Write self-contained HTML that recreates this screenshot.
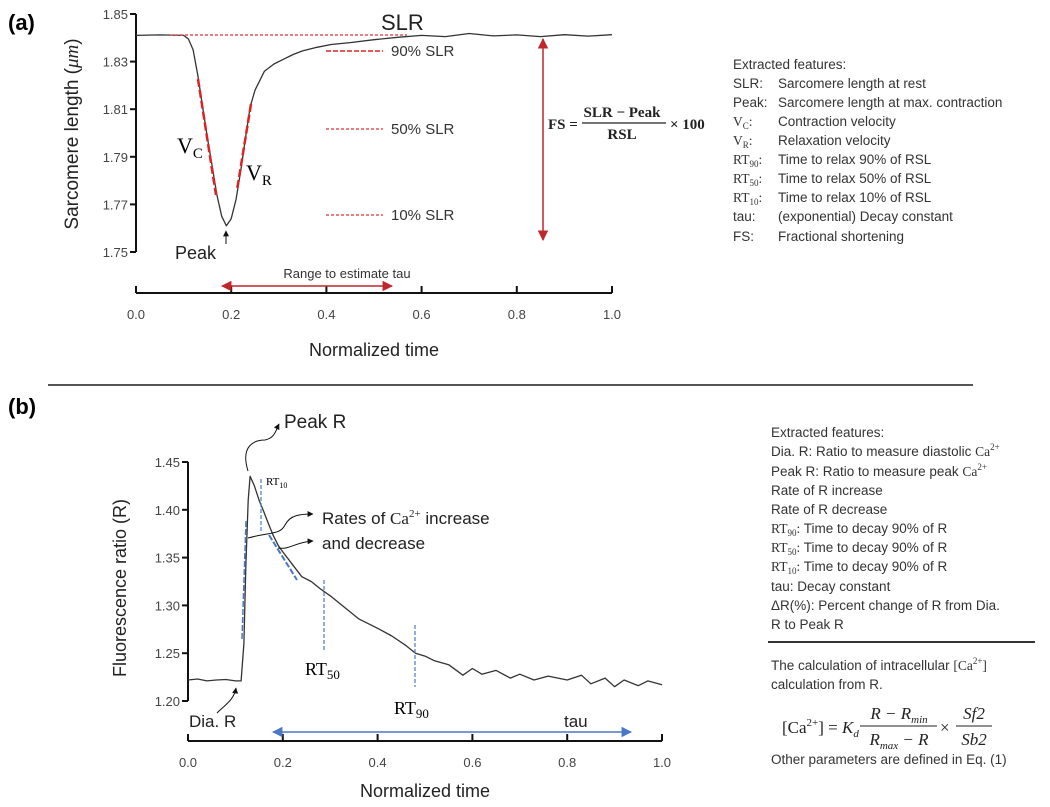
<!DOCTYPE html>
<html><head><meta charset="utf-8"><style>
body{margin:0;background:#fff;}
svg{display:block;font-family:"Liberation Sans",sans-serif;}
.tk{font-size:13px;fill:#444;}
.ft{font-size:13.5px;fill:#333;}
.sr{font-family:"Liberation Serif",serif;}
</style></head><body>
<svg id="s" width="1050" height="807" viewBox="0 0 1050 807">
<defs>
<marker id="ar" viewBox="0 0 10 10" refX="9" refY="5" markerWidth="7" markerHeight="7" orient="auto-start-reverse"><path d="M0,0L10,5L0,10z" fill="#c0272d"/></marker>
<marker id="ab" viewBox="0 0 10 10" refX="9" refY="5" markerWidth="7" markerHeight="7" orient="auto-start-reverse"><path d="M0,0L10,5L0,10z" fill="#4a78c2"/></marker>
<marker id="ak" viewBox="0 0 10 10" refX="9" refY="5" markerWidth="6" markerHeight="6" orient="auto"><path d="M0,0L10,5L0,10z" fill="#111"/></marker>
</defs>
<g id="pa"></g>
<g id="pb"></g>

<text x="8" y="30" font-size="22" font-weight="bold">(a)</text>
<text x="8" y="414" font-size="22" font-weight="bold">(b)</text>
<line x1="48" y1="385" x2="973" y2="385" stroke="#555" stroke-width="2"/>

<!-- panel a annotations -->
<text x="381" y="30" font-size="22" fill="#222">SLR</text>
<line x1="170" y1="35" x2="407" y2="35" stroke="#e0555a" stroke-width="1.5" stroke-dasharray="3,2"/>
<line x1="326" y1="51" x2="383" y2="51" stroke="#d22" stroke-width="1.5" stroke-dasharray="5,2"/>
<text x="391" y="56" font-size="15" fill="#333">90% SLR</text>
<line x1="326" y1="129" x2="383" y2="129" stroke="#e0555a" stroke-width="1.5" stroke-dasharray="3,2"/>
<text x="391" y="134" font-size="15" fill="#333">50% SLR</text>
<line x1="326" y1="215" x2="383" y2="215" stroke="#e0555a" stroke-width="1.5" stroke-dasharray="3,2"/>
<text x="391" y="220" font-size="15" fill="#333">10% SLR</text>
<line x1="198" y1="79" x2="216" y2="195" stroke="#d22" stroke-width="2.5" stroke-dasharray="8,3"/>
<line x1="251" y1="104" x2="237" y2="190" stroke="#d22" stroke-width="2.5" stroke-dasharray="8,3"/>
<text x="177" y="153" font-size="22" class="sr">V<tspan font-size="15" dy="5">C</tspan></text>
<text x="246" y="180" font-size="22" class="sr">V<tspan font-size="15" dy="5">R</tspan></text>
<text x="175" y="259" font-size="18" fill="#222">Peak</text>
<line x1="226" y1="244" x2="226" y2="231" stroke="#111" stroke-width="1" marker-end="url(#ak)"/>
<text x="347" y="278" font-size="13" fill="#333" text-anchor="middle">Range to estimate tau</text>
<line x1="222" y1="286" x2="392" y2="286" stroke="#c0272d" stroke-width="1.5" marker-start="url(#ar)" marker-end="url(#ar)"/>
<line x1="543" y1="39" x2="543" y2="240" stroke="#c0272d" stroke-width="1.5" marker-start="url(#ar)" marker-end="url(#ar)"/>
<g class="sr" font-size="15" font-weight="bold" fill="#222">
<text x="548" y="129">FS =</text>
<text x="622" y="117" text-anchor="middle">SLR − Peak</text>
<line x1="582" y1="123" x2="666" y2="123" stroke="#222" stroke-width="1.2"/>
<text x="622" y="139" text-anchor="middle">RSL</text>
<text x="670" y="129">× 100</text>
</g>
<g class="ft">
<text x="733" y="69">Extracted features:</text>
<text x="733" y="88">SLR:</text><text x="778" y="88">Sarcomere length at rest</text>
<text x="733" y="107">Peak:</text><text x="778" y="107">Sarcomere length at max. contraction</text>
<text x="733" y="126" class="sr">V<tspan font-size="9" dy="3">C</tspan><tspan dy="-3">:</tspan></text><text x="778" y="126">Contraction velocity</text>
<text x="733" y="145" class="sr">V<tspan font-size="9" dy="3">R</tspan><tspan dy="-3">:</tspan></text><text x="778" y="145">Relaxation velocity</text>
<text x="733" y="164" class="sr">RT<tspan font-size="9" dy="3">90</tspan><tspan dy="-3">:</tspan></text><text x="778" y="164">Time to relax 90% of RSL</text>
<text x="733" y="183" class="sr">RT<tspan font-size="9" dy="3">50</tspan><tspan dy="-3">:</tspan></text><text x="778" y="183">Time to relax 50% of RSL</text>
<text x="733" y="202" class="sr">RT<tspan font-size="9" dy="3">10</tspan><tspan dy="-3">:</tspan></text><text x="778" y="202">Time to relax 10% of RSL</text>
<text x="733" y="221">tau:</text><text x="778" y="221">(exponential) Decay constant</text>
<text x="733" y="241">FS:</text><text x="778" y="241">Fractional shortening</text>
</g>

<!-- panel b annotations -->
<text x="284" y="428" font-size="19" fill="#222">Peak R</text>
<path d="M248,471 C240,445 255,440 265,440 C275,438 276,430 279,424" fill="none" stroke="#111" stroke-width="1" marker-end="url(#ak)"/>
<line x1="261" y1="479" x2="261" y2="531" stroke="#4a78c2" stroke-width="1.2" stroke-dasharray="4,2"/>
<text x="266" y="485" font-size="11" class="sr">RT<tspan font-size="8" dy="3">10</tspan></text>
<text x="322" y="524" font-size="17" fill="#222">Rates of <tspan class="sr">Ca<tspan font-size="11" dy="-7">2+</tspan></tspan><tspan dy="7"> increase</tspan></text>
<text x="322" y="549" font-size="17" fill="#222">and decrease</text>
<path d="M248,538 C270,532 280,535 285,525 C290,515 300,514 313,514" fill="none" stroke="#111" stroke-width="1" marker-end="url(#ak)"/>
<path d="M278,548 C290,550 295,542 313,541" fill="none" stroke="#111" stroke-width="1" marker-end="url(#ak)"/>
<line x1="242" y1="639" x2="246" y2="521" stroke="#4a78c2" stroke-width="1.5" stroke-dasharray="6,2"/>
<line x1="269" y1="535" x2="297" y2="580" stroke="#4a78c2" stroke-width="2" stroke-dasharray="6,2"/>
<line x1="324" y1="580" x2="324" y2="650" stroke="#4a78c2" stroke-width="1.2" stroke-dasharray="4,2"/>
<text x="305" y="675" font-size="18" class="sr">RT<tspan font-size="13" dy="4">50</tspan></text>
<line x1="415" y1="625" x2="415" y2="687" stroke="#4a78c2" stroke-width="1.2" stroke-dasharray="4,2"/>
<text x="394" y="714" font-size="18" class="sr">RT<tspan font-size="13" dy="4">90</tspan></text>
<text x="189" y="727" font-size="17" fill="#222">Dia. R</text>
<path d="M217,713 C225,705 234,700 236,688" fill="none" stroke="#111" stroke-width="1" marker-end="url(#ak)"/>
<text x="564" y="727" font-size="17" fill="#222">tau</text>
<line x1="273" y1="732" x2="631" y2="732" stroke="#4a78c2" stroke-width="1.5" marker-start="url(#ab)" marker-end="url(#ab)"/>
<g class="ft">
<text x="771" y="437">Extracted features:</text>
<text x="771" y="456">Dia. R: Ratio to measure diastolic <tspan class="sr">Ca<tspan font-size="9" dy="-6">2+</tspan></tspan></text>
<text x="771" y="476">Peak R: Ratio to measure peak <tspan class="sr">Ca<tspan font-size="9" dy="-6">2+</tspan></tspan></text>
<text x="771" y="495">Rate of R increase</text>
<text x="771" y="514">Rate of R decrease</text>
<text x="771" y="533"><tspan class="sr">RT<tspan font-size="9" dy="3">90</tspan><tspan dy="-3">:</tspan></tspan> Time to decay 90% of R</text>
<text x="771" y="552"><tspan class="sr">RT<tspan font-size="9" dy="3">50</tspan><tspan dy="-3">:</tspan></tspan> Time to decay 90% of R</text>
<text x="771" y="571"><tspan class="sr">RT<tspan font-size="9" dy="3">10</tspan><tspan dy="-3">:</tspan></tspan> Time to decay 90% of R</text>
<text x="771" y="591">tau:   Decay constant</text>
<text x="771" y="610">ΔR(%): Percent change of R from Dia.</text>
<text x="771" y="629">R to Peak R</text>
<line x1="768" y1="642" x2="1035" y2="642" stroke="#333" stroke-width="2"/>
<text x="771" y="670">The calculation of intracellular <tspan class="sr">[Ca<tspan font-size="9" dy="-6">2+</tspan><tspan dy="6">]</tspan></tspan></text>
<text x="771" y="689">calculation from R.</text>
<text x="771" y="764">Other parameters are defined in Eq. (1)</text>
</g>
<g class="sr" font-size="17" fill="#222">
<text x="782" y="733">[Ca<tspan font-size="11" dy="-7">2+</tspan><tspan dy="7">] = </tspan><tspan font-style="italic">K</tspan><tspan font-size="11" dy="4" font-style="italic">d</tspan></text>
<text x="899" y="719" text-anchor="middle" font-style="italic">R − R<tspan font-size="11" dy="4">min</tspan></text>
<line x1="860" y1="726" x2="937" y2="726" stroke="#222" stroke-width="1"/>
<text x="899" y="745" text-anchor="middle" font-style="italic">R<tspan font-size="11" dy="4">max</tspan><tspan dy="-4"> − R</tspan></text>
<text x="940" y="733">×</text>
<text x="974" y="719" text-anchor="middle" font-style="italic">Sf2</text>
<line x1="956" y1="726" x2="992" y2="726" stroke="#222" stroke-width="1"/>
<text x="974" y="745" text-anchor="middle" font-style="italic">Sb2</text>
</g>
</svg>
<script>
// Panel (a) data
const aTime = [0,0.05,0.1,0.11,0.12,0.13,0.14,0.15,0.16,0.17,0.18,0.19,0.2,0.21,0.22,0.23,0.24,0.25,0.27,0.29,0.31,0.33,0.35,0.38,0.41,0.45,0.5,0.55,0.6,0.65,0.7,0.75,0.8,0.85,0.9,0.95,1.0];
const aLength = [1.841,1.8412,1.841,1.8395,1.835,1.824,1.811,1.798,1.786,1.774,1.765,1.761,1.764,1.772,1.784,1.798,1.811,1.818,1.826,1.829,1.831,1.833,1.8345,1.836,1.8372,1.838,1.8392,1.8402,1.841,1.8405,1.8418,1.8408,1.8412,1.8405,1.8413,1.8407,1.8413];
const aYTicks = [1.75,1.77,1.79,1.81,1.83,1.85];
const aXTicks = [0,0.2,0.4,0.6,0.8,1.0];
// Panel (b) data
const bTime = [0,0.02,0.04,0.06,0.08,0.1,0.112,0.118,0.122,0.127,0.131,0.14,0.15,0.16,0.17,0.18,0.19,0.2,0.22,0.24,0.26,0.28,0.3,0.33,0.36,0.4,0.43,0.46,0.48,0.5,0.52,0.55,0.58,0.6,0.62,0.65,0.68,0.7,0.73,0.76,0.8,0.83,0.85,0.88,0.9,0.92,0.95,0.97,1.0];
const bRatio = [1.222,1.223,1.221,1.222,1.2225,1.221,1.221,1.26,1.34,1.41,1.435,1.425,1.41,1.398,1.385,1.373,1.363,1.356,1.343,1.33,1.325,1.317,1.31,1.298,1.286,1.276,1.268,1.258,1.25,1.247,1.242,1.238,1.227,1.234,1.228,1.232,1.224,1.228,1.222,1.226,1.222,1.227,1.218,1.224,1.215,1.222,1.216,1.221,1.217];
const bYTicks = [1.20,1.25,1.30,1.35,1.40,1.45];
const bXTicks = [0,0.2,0.4,0.6,0.8,1.0];

const NS = 'http://www.w3.org/2000/svg';
function mk(parent, tag, attrs){const e=document.createElementNS(NS,tag);for(const k in attrs)e.setAttribute(k,attrs[k]);parent.appendChild(e);return e;}

function drawPanel(g, cfg){
  const sx = v => cfg.x0 + (v - cfg.xmin)/(cfg.xmax - cfg.xmin)*(cfg.x1 - cfg.x0);
  const sy = v => cfg.yb + (v - cfg.ymin)/(cfg.ymax - cfg.ymin)*(cfg.yt - cfg.yb);
  const yax = mk(g,'line',{x1:cfg.x0,y1:sy(cfg.ymin),x2:cfg.x0,y2:sy(cfg.ymax),stroke:'#111','stroke-width':2});
  
  
  cfg.yTicks.forEach(v=>{
    const t=mk(g,'line',{x1:cfg.x0-6,y1:sy(v),x2:cfg.x0,y2:sy(v),stroke:'#111','stroke-width':2});
    
    
    const l=mk(g,'text',{x:cfg.x0-8,y:sy(v)+5,'text-anchor':'end',class:'tk'});
    l.textContent=v.toFixed(2);
    
    
  });
  const xax = mk(g,'line',{x1:sx(cfg.xmin),y1:cfg.xa,x2:sx(cfg.xmax),y2:cfg.xa,stroke:'#111','stroke-width':2});
  
  
  cfg.xTicks.forEach(v=>{
    const t=mk(g,'line',{x1:sx(v),y1:cfg.xa-7,x2:sx(v),y2:cfg.xa,stroke:'#111','stroke-width':2});
    
    
    const l=mk(g,'text',{x:sx(v),y:cfg.xa+26,'text-anchor':'middle',class:'tk'});
    l.textContent=v.toFixed(1);
    
    
  });
  const xt=mk(g,'text',{x:(sx(cfg.xmin)+sx(cfg.xmax))/2,y:cfg.xtY,'text-anchor':'middle','font-size':18,fill:'#222'});
  xt.textContent='Normalized time';
  
  
  const yt=mk(g,'text',{x:0,y:0,'text-anchor':'middle','font-size':cfg.ytSize,fill:'#222',transform:`translate(${cfg.ytX},${cfg.ytY}) rotate(-90)`});
  yt.innerHTML=cfg.yTitle;
  
  
  const d=cfg.t.map((v,i)=>(i?'L':'M')+sx(v).toFixed(1)+','+sy(cfg.v[i]).toFixed(1)).join('');
  const p=mk(g,'path',{d:d,fill:'none',stroke:'#333','stroke-width':1.3,'stroke-linejoin':'round'});
  
  
}
drawPanel(document.getElementById('pa'),{x0:136,x1:612,xmin:0,xmax:1,yb:252,yt:14,ymin:1.75,ymax:1.85,xa:293,xtY:356,
  yTicks:aYTicks,xTicks:aXTicks,t:aTime,v:aLength,ytX:78,ytY:134,ytSize:19,
  yTitle:'Sarcomere length (<tspan font-style="italic" font-family="Liberation Serif">μm</tspan>)'});
drawPanel(document.getElementById('pb'),{x0:188,x1:662,xmin:0,xmax:1,yb:701,yt:462,ymin:1.20,ymax:1.45,xa:741,xtY:797,
  yTicks:bYTicks,xTicks:bXTicks,t:bTime,v:bRatio,ytX:126,ytY:588,ytSize:18,
  yTitle:'Fluorescence ratio (R)'});
</script>
</body></html>
